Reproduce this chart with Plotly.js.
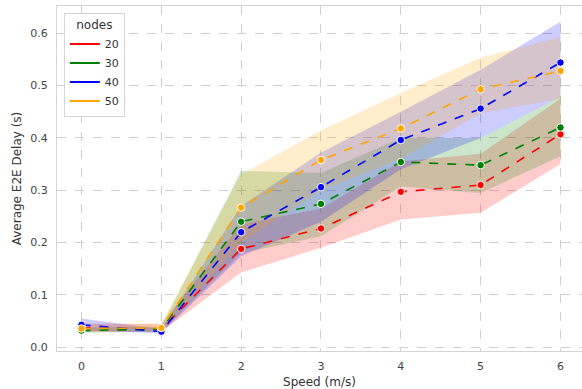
<!DOCTYPE html>
<html>
<head>
<meta charset="utf-8">
<script src="https://cdn.plot.ly/plotly-3.0.1.min.js"></script>
<style>html,body{margin:0;padding:0;background:#fff;}#chart{width:582px;height:389px;}</style>
</head>
<body>
<div id="chart"></div>
<script>
const speeds = [0, 1, 2, 3, 4, 5, 6];
const nodeLabels = ["20", "30", "40", "50"];
const colors = ["red", "green", "blue", "orange"];
const fillColors = ["rgba(255,0,0,0.2)", "rgba(0,128,0,0.2)", "rgba(0,0,255,0.2)", "rgba(255,165,0,0.2)"];

const mean20 = [0.037, 0.035, 0.188, 0.227, 0.297, 0.310, 0.407];
const lo20   = [0.030, 0.030, 0.143, 0.190, 0.244, 0.257, 0.350];
const hi20   = [0.045, 0.045, 0.235, 0.265, 0.355, 0.370, 0.475];

const mean30 = [0.032, 0.035, 0.240, 0.274, 0.354, 0.348, 0.420];
const lo30   = [0.028, 0.030, 0.180, 0.212, 0.307, 0.295, 0.365];
const hi30   = [0.038, 0.040, 0.337, 0.333, 0.400, 0.400, 0.478];

const mean40 = [0.043, 0.030, 0.220, 0.306, 0.396, 0.456, 0.544];
const lo40   = [0.032, 0.027, 0.174, 0.240, 0.340, 0.400, 0.478];
const hi40   = [0.055, 0.035, 0.270, 0.372, 0.450, 0.530, 0.622];

const mean50 = [0.036, 0.037, 0.267, 0.358, 0.418, 0.493, 0.528];
const lo50   = [0.030, 0.032, 0.200, 0.300, 0.360, 0.447, 0.475];
const hi50   = [0.042, 0.045, 0.330, 0.414, 0.486, 0.553, 0.593];

const means = [mean20, mean30, mean40, mean50];
const los = [lo20, lo30, lo40, lo50];
const his = [hi20, hi30, hi40, hi50];

const traces = [];
for (let i = 0; i < 4; i++) {
  traces.push({
    x: speeds.concat(speeds.slice().reverse()),
    y: his[i].concat(los[i].slice().reverse()),
    type: "scatter", mode: "lines", fill: "toself",
    fillcolor: fillColors[i], line: {width: 0, color: "rgba(0,0,0,0)"},
    showlegend: false, hoverinfo: "skip"
  });
}
for (let i = 0; i < 4; i++) {
  traces.push({
    x: speeds, y: means[i], type: "scatter", mode: "lines+markers",
    line: {color: colors[i], width: 1.6, dash: "dash"},
    marker: {color: colors[i], size: 7.5, line: {color: "white", width: 1}},
    showlegend: false, hoverinfo: "skip"
  });
}
for (let i = 0; i < 4; i++) {
  traces.push({
    x: [null], y: [null], type: "scatter", mode: "lines",
    name: nodeLabels[i], line: {color: colors[i], width: 1.8},
    showlegend: true
  });
}

const axisCommon = {
  showgrid: true, gridcolor: "#cfcfcf", griddash: "dash", gridwidth: 1,
  zeroline: false, showline: true, mirror: true, linecolor: "#d5d5d5", linewidth: 1,
  ticks: "", tickfont: {family: "DejaVu Sans", size: 11, color: "#444"}
};

const layout = {
  width: 582, height: 389,
  margin: {l: 57, r: 0, t: 6, b: 37.5},
  paper_bgcolor: "white", plot_bgcolor: "white",
  font: {family: "DejaVu Sans", color: "#333"},
  xaxis: Object.assign({}, axisCommon, {
    range: [-0.307, 6.27], tickvals: speeds, ticktext: speeds.map(String),
    ticklabelstandoff: 5,
    title: {text: "Speed (m/s)", font: {family: "DejaVu Sans", size: 12, color: "#333"}, standoff: 5}
  }),
  yaxis: Object.assign({}, axisCommon, {
    range: [-0.007, 0.652], tickvals: [0, 0.1, 0.2, 0.3, 0.4, 0.5, 0.6], tickformat: ".1f",
    ticklabelstandoff: 6,
    title: {text: "Average E2E Delay (s)", font: {family: "DejaVu Sans", size: 12, color: "#333"}, standoff: 6}
  }),
  legend: {
    x: 0.013, y: 0.98, xanchor: "left", yanchor: "top",
    bgcolor: "white", bordercolor: "#d5d5d5", borderwidth: 1,
    font: {family: "DejaVu Sans", size: 11, color: "#333"},
    title: {text: "nodes", side: "top center", font: {family: "DejaVu Sans", size: 12, color: "#333"}},
    itemwidth: 30, tracegroupgap: 0
  },
  showlegend: true,
  hovermode: false
};

Plotly.newPlot("chart", traces, layout, {displayModeBar: false, staticPlot: true});
</script>
</body>
</html>
